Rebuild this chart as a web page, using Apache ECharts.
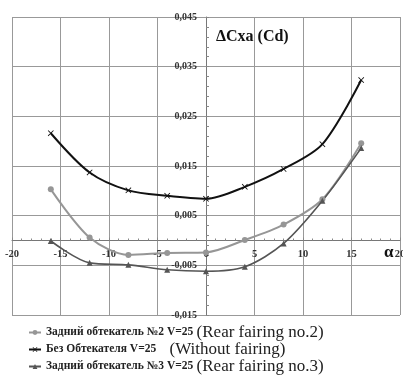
<!DOCTYPE html>
<html>
<head>
<meta charset="utf-8">
<script src="https://cdn.jsdelivr.net/npm/echarts@6/dist/echarts.min.js"></script>
<style>
html, body { margin: 0; padding: 0; background: #fff; }
#chart { width: 403px; height: 382px; }
</style>
</head>
<body>
<div id="chart"></div>
<script>
// углы атаки и значения ΔCxa
var alpha = [-16, -12, -8, -4, 0, 4, 8, 12, 16];
var rear2 = [0.0103, 0.0006, -0.0029, -0.0025, -0.0024, 0.0001, 0.0032, 0.0083, 0.0196];
var noFairing = [0.0216, 0.0137, 0.0101, 0.0090, 0.0084, 0.0108, 0.0144, 0.0194, 0.0323];
var rear3 = [-0.0001, -0.0045, -0.0049, -0.0059, -0.0062, -0.0053, -0.0006, 0.0080, 0.0186];
var seriesNames = ['Задний обтекатель №2 V=25', 'Без Обтекателя V=25', 'Задний обтекатель №3 V=25'];
var seriesNotes = ['(Rear fairing no.2)', '(Without fairing)', '(Rear fairing no.3)'];

var serif = '"Liberation Serif", "DejaVu Serif", serif';
var crossPath = 'path://M0,1L1,0L5,4L9,0L10,1L6,5L10,9L9,10L5,6L1,10L0,9L4,5Z';

// размеры сетки, чтобы сдвинуть оси к нулю
var gridL = 12, gridR = 3, gridT = 17, gridB = 67;
var W = 403, H = 382;
var xMin = -20, xMax = 20, yMin = -0.015, yMax = 0.045;
var plotW = W - gridL - gridR, plotH = H - gridT - gridB;
var yAxisShift = plotW * (0 - xMin) / (xMax - xMin);
var xAxisShift = plotH * (0 - yMin) / (yMax - yMin);

function pairs(vals) {
	var out = [];
	for (var i = 0; i < alpha.length; i++) out.push([alpha[i], vals[i]]);
	return out;
}

var chart = echarts.init(document.getElementById('chart'));
var option = {
	backgroundColor: '#fff',
	animation: false,
	title: {
		text: 'ΔCxa (Cd)',
		left: 211,
		top: 24,
		textStyle: { fontFamily: serif, fontWeight: 'bold', fontSize: 16, color: '#111' }
	},
	grid: {
		left: gridL, right: gridR, top: gridT, bottom: gridB,
		containLabel: false,
		outerBoundsMode: 'none'
	},
	legend: {
		orient: 'vertical',
		left: 28,
		top: 324,
		height: 80,
		itemGap: 0,
		itemWidth: 12,
		itemHeight: 6,
		padding: 0,
		data: seriesNames,
		formatter: function (name) {
			var i = seriesNames.indexOf(name);
			var gap = i === 1 ? '    ' : ' ';
			return '{a|' + name + '}' + gap + '{b|' + seriesNotes[i] + '}';
		},
		textStyle: {
			rich: {
				a: { fontFamily: serif, fontWeight: 'bold', fontSize: 11.5, color: '#222', lineHeight: 17 },
				b: { fontFamily: serif, fontSize: 17, color: '#222', lineHeight: 17 }
			}
		}
	},
	xAxis: {
		type: 'value',
		min: xMin,
		max: xMax,
		interval: 5,
		offset: -xAxisShift,
		axisLine: { onZero: false, lineStyle: { color: '#777', width: 1 } },
		axisTick: { show: true, inside: true, length: 3, lineStyle: { color: '#888' } },
		minorTick: { show: true, splitNumber: 5, length: 2, lineStyle: { color: '#888' } },
		axisLabel: {
			margin: 8,
			fontFamily: serif, fontWeight: 'bold', fontSize: 10.5, color: '#333'
		},
		splitLine: { show: true, lineStyle: { color: '#999', width: 1 } }
	},
	yAxis: {
		type: 'value',
		min: yMin,
		max: yMax,
		interval: 0.01,
		offset: -yAxisShift,
		axisLine: { onZero: false, lineStyle: { color: '#777', width: 1 } },
		axisTick: { show: true, inside: true, length: 3, lineStyle: { color: '#888' } },
		minorTick: { show: true, splitNumber: 5, length: 3, lineStyle: { color: '#888' } },
		axisLabel: {
			margin: 9,
			fontFamily: serif, fontWeight: 'bold', fontSize: 10, color: '#333',
			formatter: function (v) { return v.toFixed(3).replace('.', ','); }
		},
		splitLine: { show: true, lineStyle: { color: '#999', width: 1 } }
	},
	graphic: [{
		type: 'text',
		left: 384,
		top: 244,
		style: { text: 'α', fontFamily: serif, fontWeight: 'bold', fontSize: 17, fill: '#111' }
	}],
	series: [
		{
			name: seriesNames[0],
			type: 'line',
			smooth: 0.3,
			data: pairs(rear2),
			symbol: 'circle',
			symbolSize: 6,
			itemStyle: { color: '#969696' },
			lineStyle: { color: '#969696', width: 2 }
		},
		{
			name: seriesNames[1],
			type: 'line',
			smooth: 0.3,
			data: pairs(noFairing),
			symbol: crossPath,
			symbolSize: 6,
			itemStyle: { color: '#111' },
			lineStyle: { color: '#111', width: 2 }
		},
		{
			name: seriesNames[2],
			type: 'line',
			smooth: 0.3,
			data: pairs(rear3),
			symbol: 'triangle',
			symbolSize: 6,
			itemStyle: { color: '#555' },
			lineStyle: { color: '#555', width: 1.6 }
		}
	]
};
chart.setOption(option);
</script>
</body>
</html>
